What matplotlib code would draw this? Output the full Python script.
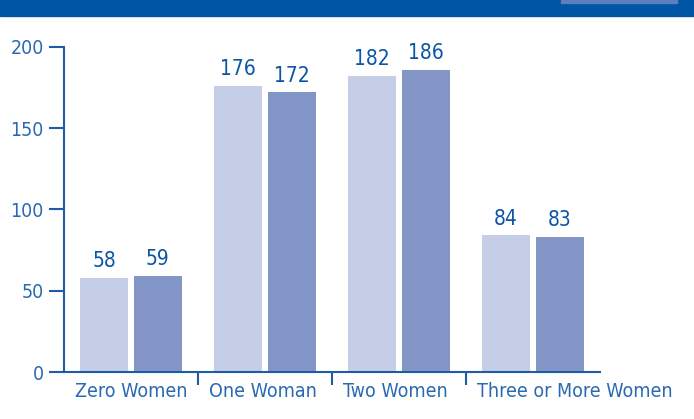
import matplotlib.pyplot as plt
import numpy as np
from matplotlib.patches import Rectangle
from matplotlib.transforms import blended_transform_factory

categories = ['Zero Women', 'One Woman', 'Two Women', 'Three or More Women']
serie_a = [58, 176, 182, 84]
serie_b = [59, 172, 186, 83]
y_ticks = [0, 50, 100, 150, 200]

col_chiaro = '#c6cde6'
col_scuro = '#8496c8'
col_asse = '#1f5ca8'
col_testo = '#0d55a3'
col_tick = '#2a6ab3'

plt.rcParams['font.family'] = ['DejaVu Sans']
plt.rcParams['font.stretch'] = 'condensed'

fig = plt.figure(figsize=(6.94, 4.19), dpi=100)
ax = fig.add_axes([64 / 694, 1 - 372 / 419, 536 / 694, 325 / 419])

# banda blu in alto
fig.patches.append(Rectangle((0, 1 - 16.5 / 419), 1, 16.5 / 419, transform=fig.transFigure,
                             color='#0055a4', zorder=0))
fig.patches.append(Rectangle((561 / 694, 1 - 3 / 419), 116 / 694, 3 / 419, transform=fig.transFigure,
                             color='#5b7ec0', zorder=1))

x = np.arange(len(categories)) + 0.5
w = 0.358
off = 0.201
b1 = ax.bar(x - off, serie_a, width=w, color=col_chiaro)
b2 = ax.bar(x + off, serie_b, width=w, color=col_scuro)

for barre, valori in [(b1, serie_a), (b2, serie_b)]:
    for b, v in zip(barre, valori):
        ax.annotate(str(v), (b.get_x() + b.get_width() / 2, v), xytext=(0, 5),
                    textcoords='offset points', ha='center', va='bottom',
                    fontsize=15, color=col_testo)

ax.set_xlim(0, 4)
ax.set_ylim(0, 200)
ax.set_yticks(y_ticks)
ax.set_xticks([1, 2, 3])
ax.set_xticklabels([])

# etichette categorie allineate a sinistra
tr = blended_transform_factory(ax.transData, ax.transAxes)
for i, c in enumerate(categories):
    ax.annotate(c, (i, 0), xycoords=tr, xytext=(11, -10), textcoords='offset pixels',
                ha='left', va='top', fontsize=14, color=col_tick)

ax.tick_params(axis='x', which='major', length=9.4, width=1.5, color=col_asse, direction='out')
ax.tick_params(axis='y', length=10.8, width=1.5, color=col_asse, labelsize=14, labelcolor=col_tick, pad=3.6)

for lato in ['top', 'right']:
    ax.spines[lato].set_visible(False)
for lato in ['left', 'bottom']:
    ax.spines[lato].set_color(col_asse)
    ax.spines[lato].set_linewidth(1.5)

fig.savefig('out.png', dpi=100)
